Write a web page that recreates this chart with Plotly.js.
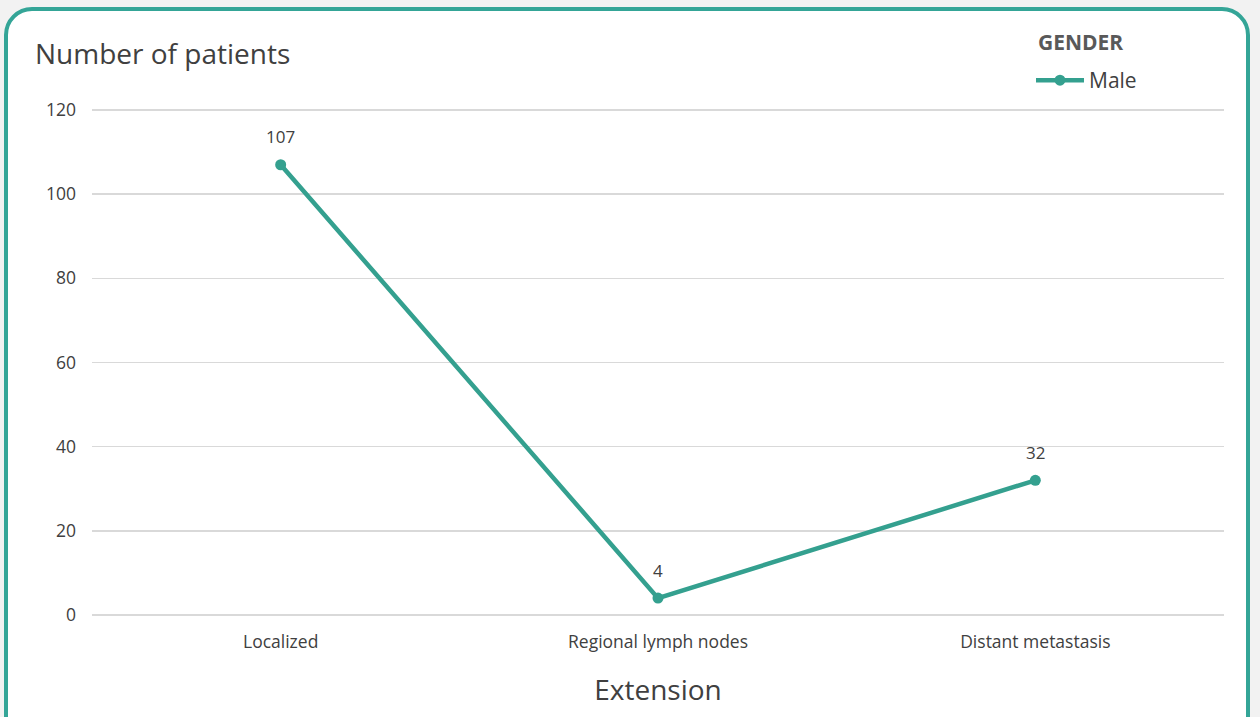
<!DOCTYPE html>
<html>
<head>
<meta charset="utf-8">
<script src="https://cdn.plot.ly/plotly-3.0.1.min.js"></script>
<style>
  html, body { margin: 0; padding: 0; width: 1260px; height: 717px; overflow: hidden; background: #f2f2f2; }
  #frame { position: absolute; left: 4px; top: 7px; width: 1238px; height: 740px; border: 4px solid #34a597; border-radius: 28px; background: #ffffff; }
  #chart { position: absolute; left: 0; top: 0; width: 1260px; height: 717px; }
</style>
</head>
<body>
<div id="frame"></div>
<div id="chart"></div>
<script>
const categories = ["Localized", "Regional lymph nodes", "Distant metastasis"];
const maleValues = [107, 4, 32];
const seriesName = "Male";
const legendTitle = "GENDER";
const yTicks = [0, 20, 40, 60, 80, 100, 120];

const teal = "#34a08f";
const font = "Open Sans, Lato, sans-serif";

// plot-area geometry in pixels, used to place free texts in paper units
const L = 92, R = 36, T = 105, B = 97, W = 1260, H = 717;
const PW = W - L - R, PH = H - T - B;
const px = x => (x - L) / PW;
const py = y => (H - B - y) / PH;

const trace = {
  x: categories,
  y: maleValues,
  name: seriesName,
  type: "scatter",
  mode: "lines+markers",
  line: { color: teal, width: 4.5 },
  marker: { color: teal, size: 11 },
  cliponaxis: false
};

const labels = categories.map((c, i) => ({
  x: c, y: maleValues[i], text: String(maleValues[i]),
  showarrow: false, yshift: 28,
  font: { family: font, size: 17, color: "#404040" }
}));

const layout = {
  width: W, height: H,
  margin: { l: L, r: R, t: T, b: B, autoexpand: false },
  paper_bgcolor: "rgba(0,0,0,0)",
  plot_bgcolor: "rgba(0,0,0,0)",
  font: { family: font, color: "#595959" },
  showlegend: true,
  legend: {
    x: px(1031), y: py(60), xanchor: "left", yanchor: "top",
    font: { family: font, size: 21, color: "#404040" },
    itemwidth: 48, bgcolor: "rgba(0,0,0,0)", borderwidth: 0
  },
  xaxis: {
    type: "category",
    range: [-0.5, 2.5],
    showgrid: false, zeroline: false, showline: false,
    ticks: "",
    ticklabelstandoff: 9,
    tickfont: { family: font, size: 17.5, color: "#404040" },
    title: { text: "Extension", font: { family: font, size: 28, color: "#404040" }, standoff: 28 }
  },
  yaxis: {
    range: [-1.2, 121.2],
    tickvals: yTicks,
    showgrid: true, gridcolor: "#d9d9d9", gridwidth: 1.6,
    zeroline: false, showline: false, ticks: "",
    ticklabelstandoff: 15,
    tickfont: { family: font, size: 17.5, color: "#404040" }
  },
  annotations: labels.concat([
    {
      xref: "paper", yref: "paper",
      x: px(33), y: py(53), xanchor: "left", yanchor: "middle",
      text: "Number of patients", showarrow: false,
      font: { family: font, size: 28, color: "#404040" }
    },
    {
      xref: "paper", yref: "paper",
      x: px(1036), y: py(42), xanchor: "left", yanchor: "middle",
      text: "<b>" + legendTitle + "</b>", showarrow: false,
      font: { family: font, size: 21, color: "#595959" }
    }
  ])
};

Plotly.newPlot("chart", [trace], layout, { displayModeBar: false, staticPlot: true });
</script>
</body>
</html>
